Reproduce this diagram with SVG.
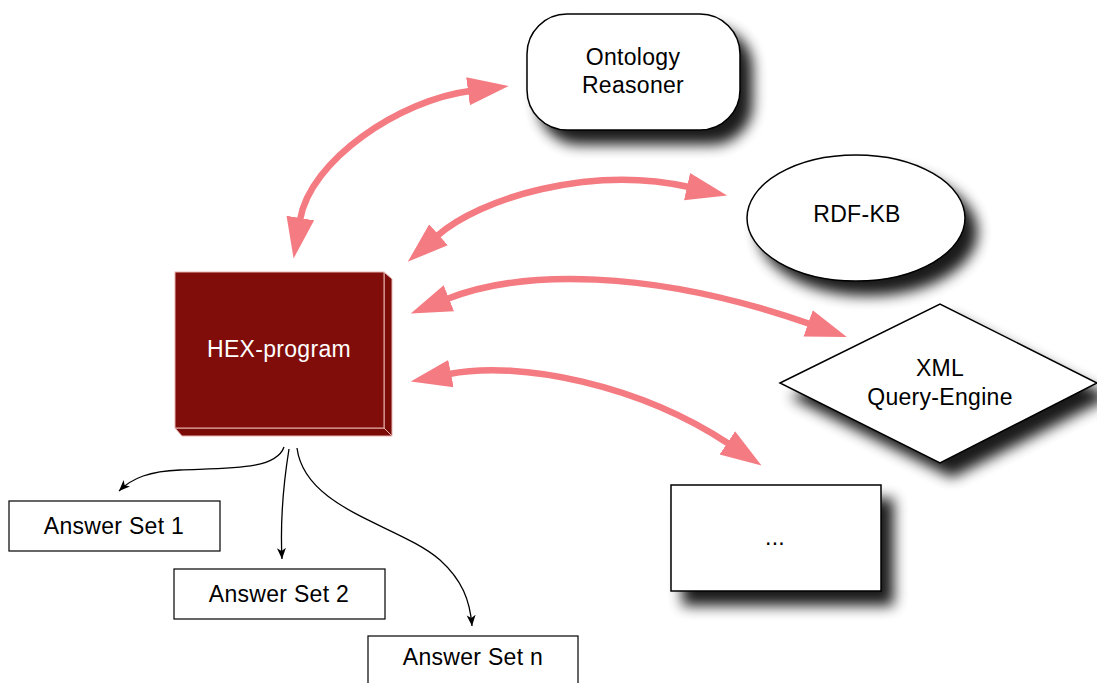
<svg xmlns="http://www.w3.org/2000/svg" width="1097" height="683" viewBox="0 0 1097 683">
  <style>
    text { font-family: "Liberation Sans", Arial, sans-serif; font-size: 23px; letter-spacing: 0.3px; fill: #000; text-anchor: middle; }
    .hex { fill: #fff; }
    .shape { fill: #fff; stroke: #000; stroke-width: 1.5; }
    .box { fill: #fff; stroke: #000; stroke-width: 1.2; }
    .pink { fill: none; stroke: #f47b81; stroke-width: 6.5; marker-start: url(#pinkHead); marker-end: url(#pinkHead); }
    .thin { fill: none; stroke: #000; stroke-width: 1.3; marker-end: url(#blackHead); }
  </style>
  <defs>
    <filter id="shadow" x="-20%" y="-20%" width="150%" height="160%">
      <feGaussianBlur in="SourceAlpha" stdDeviation="7"/>
      <feOffset dx="12" dy="14" result="b"/>
      <feComponentTransfer><feFuncA type="linear" slope="0.9"/></feComponentTransfer>
      <feMerge><feMergeNode/><feMergeNode in="SourceGraphic"/></feMerge>
    </filter>
    <marker id="pinkHead" markerUnits="userSpaceOnUse" markerWidth="44" markerHeight="32" viewBox="0 -16 44 32" refX="2" refY="0" orient="auto-start-reverse">
      <path d="M0,-14 L41,0 L0,14 z" fill="#f47b81"/>
    </marker>
    <marker id="blackHead" markerUnits="userSpaceOnUse" markerWidth="14" markerHeight="12" viewBox="0 -6 14 12" refX="11" refY="0" orient="auto">
      <path d="M0,-4.5 L11,0 L0,4.5 L3,0 z" fill="#000"/>
    </marker>
  </defs>

  <g id="connectors">
    <path class="pink" d="M300,220 C310,160 400,100 470,91"/>
    <path class="pink" d="M437,236 C480,198 590,165 689,187"/>
    <path class="pink" d="M447,299 C520,270 650,268 810,324"/>
    <path class="pink" d="M449,374 C520,360 640,385 729,444"/>
    <path class="thin" d="M284,447 C276,470 230,468 180,470 C150,471 132,478 119,491"/>
    <path class="thin" d="M289,449 C284,480 280,520 282,559"/>
    <path class="thin" d="M297,448 C305,510 400,525 440,560 C462,580 470,600 472,626"/>
  </g>

  <g id="hex-program">
    <polygon points="384,272 392,279 392,436 384,428" fill="#7a0b07" stroke="#e6b3b0" stroke-width="1"/>
    <polygon points="175,428 384,428 392,436 182,436" fill="#7a0b07" stroke="#e6b3b0" stroke-width="1"/>
    <rect x="175" y="272" width="209" height="156" fill="#800d09" stroke="#e6b3b0" stroke-width="1"/>
    <text class="hex" x="279" y="357">HEX-program</text>
  </g>

  <g id="ontology-reasoner">
    <rect class="shape" x="527" y="14" width="213" height="116" rx="40" ry="40" filter="url(#shadow)"/>
    <text x="633" y="65">Ontology</text>
    <text x="633" y="93">Reasoner</text>
  </g>

  <g id="rdf-kb">
    <ellipse class="shape" cx="856" cy="218" rx="109" ry="63" filter="url(#shadow)"/>
    <text x="857" y="222">RDF-KB</text>
  </g>

  <g id="xml-query-engine">
    <polygon class="shape" points="780,383 940,304 1097,383 940,463" filter="url(#shadow)"/>
    <text x="940" y="376">XML</text>
    <text x="940" y="405">Query-Engine</text>
  </g>

  <g id="more">
    <rect class="shape" x="671" y="485" width="210" height="106" filter="url(#shadow)"/>
    <text x="775" y="545">...</text>
  </g>

  <g id="answer-set-1">
    <rect class="box" x="9" y="501" width="211" height="50"/>
    <text x="114" y="534">Answer Set 1</text>
  </g>
  <g id="answer-set-2">
    <rect class="box" x="174" y="569" width="211" height="50"/>
    <text x="279" y="602">Answer Set 2</text>
  </g>
  <g id="answer-set-n">
    <rect class="box" x="368" y="636" width="210" height="50"/>
    <text x="473" y="665">Answer Set n</text>
  </g>
</svg>
